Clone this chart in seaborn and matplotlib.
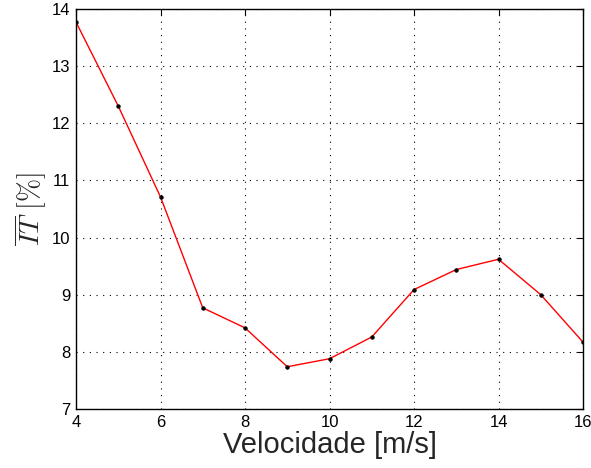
import matplotlib
matplotlib.use("Agg")
import matplotlib.pyplot as plt
import seaborn as sns
import pandas as pd

velocidade = [4, 5, 6, 7, 8, 9, 10, 11, 12, 13, 14, 15, 16]
it_mean = [13.77, 12.30, 10.71, 8.77, 8.42, 7.74, 7.88, 8.26, 9.09, 9.44, 9.62, 9.00, 8.17]
xticks = [4, 6, 8, 10, 12, 14, 16]
yticks = [7, 8, 9, 10, 11, 12, 13, 14]

sns.set_style("white")
plt.rcParams['font.family'] = ['Liberation Sans', 'DejaVu Sans']
plt.rcParams['mathtext.fontset'] = 'cm'

df = pd.DataFrame({"v": velocidade, "it": it_mean})

fig = plt.figure(figsize=(5.91, 4.68), dpi=100)
ax = fig.add_axes([0.1286, 0.126, 0.8579, 0.855])
sns.lineplot(data=df, x="v", y="it", ax=ax, color="red", linewidth=1.0,
             marker="o", markersize=2.4, markerfacecolor="black",
             markeredgecolor="black")

ax.set_xlim(4, 16)
ax.set_ylim(7, 14)
ax.set_xticks(xticks)
ax.set_yticks(yticks)
ax.tick_params(direction="in", top=True, right=True, length=4, width=0.8,
               labelsize=12, colors="black", pad=4)
ax.grid(True, linestyle=(0, (1, 5)), color="black", linewidth=0.8)
for s in ax.spines.values():
    s.set_color("black")
    s.set_linewidth(1.0)
ax.set_xlabel("Velocidade [m/s]", fontsize=21, labelpad=1)
ax.set_ylabel(r"$\overline{IT}\ \mathrm{[\%]}$", fontsize=20, labelpad=2)

fig.savefig("out.png", dpi=100)
